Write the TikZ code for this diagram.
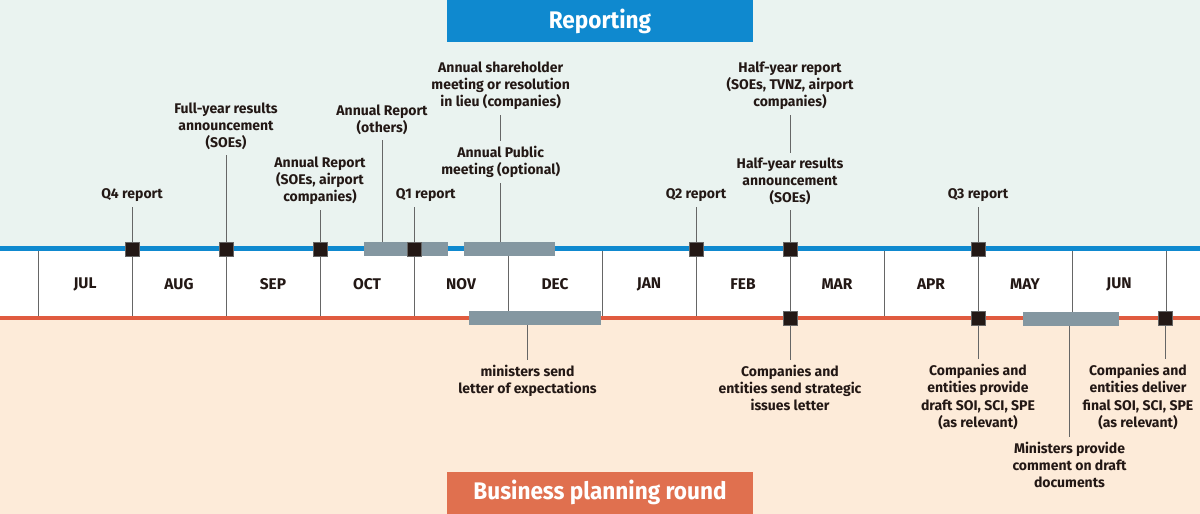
\documentclass[tikz,border=0pt]{standalone}
\usepackage{fontspec}
\setmainfont{Fira Sans}
\newfontfamily\bannerfont{Fira Sans}[FakeStretch=0.94]
\usetikzlibrary{positioning}

\definecolor{mintbg}{HTML}{EAF3F0}
\definecolor{peachbg}{HTML}{FDEBD9}
\definecolor{repblue}{HTML}{0F89CF}
\definecolor{planred}{HTML}{E0704F}
\definecolor{redline}{HTML}{E05B3F}
\definecolor{barslate}{HTML}{8497A1}
\definecolor{inkdark}{HTML}{231815}
\definecolor{stemgrey}{HTML}{666666}

\begin{document}
\begin{tikzpicture}[
    x=1pt, y=-1pt, % pixel grid, y downwards
    evtbox/.style={draw=stemgrey, line width=0.5pt, fill=inkdark, minimum size=14pt, inner sep=0pt},
    spanbar/.style={fill=barslate, minimum height=14pt, inner sep=0pt},
    lbl/.style={align=center, text=inkdark, inner sep=0pt, outer sep=5pt,
        font=\bfseries\fontsize{14}{17.3}\selectfont},
    month/.style={text=inkdark, font=\bfseries\fontsize{15.5}{18}\selectfont},
    banner/.style={text=white, minimum width=306.6pt, minimum height=42pt, inner sep=0pt,
        font=\bannerfont\bfseries\fontsize{24}{28}\selectfont},
    stem/.style={draw=stemgrey, line width=0.8pt}
]

    % Background bands
    \useasboundingbox (0,0) rectangle (1200,514);
    \fill[mintbg] (0,0) rectangle (1200,249);
    \fill[white] (0,249) rectangle (1200,318);
    \fill[peachbg] (0,318) rectangle (1200,514);

    % Titles
    \node[banner, fill=repblue, anchor=north] (rep) at (600,0) {Reporting};
    \node[banner, fill=planred, anchor=south] (plan) at (600,514) {Business planning round};

    % Time axis lines
    \draw[repblue, line width=4.5pt] (0,248.5) -- (1200,248.5);
    \draw[redline, line width=4.5pt] (0,318) -- (1200,318);

    % Month dividers and names
    \foreach \i in {0,...,12}
        \draw[stem] (38+94*\i,251) -- (38+94*\i,316);
    \foreach \m [count=\i from 0] in {JUL,AUG,SEP,OCT,NOV,DEC,JAN,FEB,MAR,APR,MAY,JUN}
        \node[month] (m\m) at (85+94*\i,284) {\m};

    % Periods
    \node[spanbar, minimum width=84pt] (arbar) at (406.3,249) {};
    \node[spanbar, minimum width=90.7pt] (asmbar) at (509.7,249) {};
    \node[spanbar, minimum width=131.7pt] (loebar) at (535.2,318) {};
    \node[spanbar, minimum width=96pt] (cmtbar) at (1071,318.5) {};

    % Reporting events
    \node[evtbox] (q4sq) at (132,249.5) {};
    \node[evtbox] (fysq) at (226,249.5) {};
    \node[evtbox] (arsq) at (320,249.5) {};
    \node[evtbox] (q1sq) at (414.5,249.5) {};
    \node[evtbox] (q2sq) at (696,249.5) {};
    \node[evtbox] (hysq) at (790,249.5) {};
    \node[evtbox] (q3sq) at (978,249.5) {};

    % Planning events
    \node[evtbox] (silsq) at (790,318) {};
    \node[evtbox] (drsq) at (978,318) {};
    \node[evtbox] (fnsq) at (1165,318) {};

    % Labels above
    \node[lbl, anchor=south] (q4) at (132,207) {Q4 report};
    \node[lbl, anchor=south] (fy) at (226,155) {Full-year results\\announcement\\(SOEs)};
    \node[lbl, anchor=south] (arsoe) at (320,210) {Annual Report\\(SOEs, airport\\companies)};
    \node[lbl, anchor=south] (aroth) at (382,140) {Annual Report\\(others)};
    \node[lbl, anchor=south] (q1) at (425.7,207) {Q1 report};
    \node[lbl, anchor=south] (asm) at (500.7,115) {Annual shareholder\\meeting or resolution\\in lieu (companies)};
    \node[lbl, anchor=south] (apm) at (500.7,183) {Annual Public\\meeting (optional)};
    \node[lbl, anchor=south] (q2) at (696,207) {Q2 report};
    \node[lbl, anchor=south] (hyr) at (790,115) {Half-year report\\(SOEs, TVNZ, airport\\companies)};
    \node[lbl, anchor=south] (hyres) at (790,210) {Half-year results\\announcement\\(SOEs)};
    \node[lbl, anchor=south] (q3) at (978,207) {Q3 report};

    % Labels below
    \node[lbl, anchor=north] (loe) at (527.5,360) {ministers send\\letter of expectations};
    \node[lbl, anchor=north] (sil) at (790,360) {Companies and\\entities send strategic\\issues letter};
    \node[lbl, anchor=north] (draft) at (978,359.3) {Companies and\\entities provide\\draft SOI, SCI, SPE\\(as relevant)};
    \node[lbl, anchor=north] (cmt) at (1069.5,436.7) {Ministers provide\\comment on draft\\documents};
    \node[lbl, anchor=north] (final) at (1138,359.3) {Companies and\\entities deliver\\final SOI, SCI, SPE\\(as relevant)};

    % Stems
    \draw[stem] (q4.south) -- (q4sq.north);
    \draw[stem] (fy.south) -- (fysq.north);
    \draw[stem] (arsoe.south) -- (arsq.north);
    \draw[stem] (aroth.south) -- (aroth.south |- arbar.north);
    \draw[stem] (q1sq.north) -- (q1sq |- q1.south);
    \draw[stem] (asm.south) -- (apm.north);
    \draw[stem] (apm.south) -- (apm.south |- asmbar.north);
    \draw[stem] (q2.south) -- (q2sq.north);
    \draw[stem] (hyr.south) -- (hyres.north);
    \draw[stem] (hyres.south) -- (hysq.north);
    \draw[stem] (q3.south) -- (q3sq.north);
    \draw[stem] (loebar.south -| loe.north) -- (loe.north);
    \draw[stem] (silsq.south) -- (sil.north);
    \draw[stem] (drsq.south) -- (draft.north);
    \draw[stem] (cmtbar.south -| cmt.north) -- (cmt.north);
    \draw[stem] (fnsq.south) -- (fnsq |- final.north);

\end{tikzpicture}
\end{document}
